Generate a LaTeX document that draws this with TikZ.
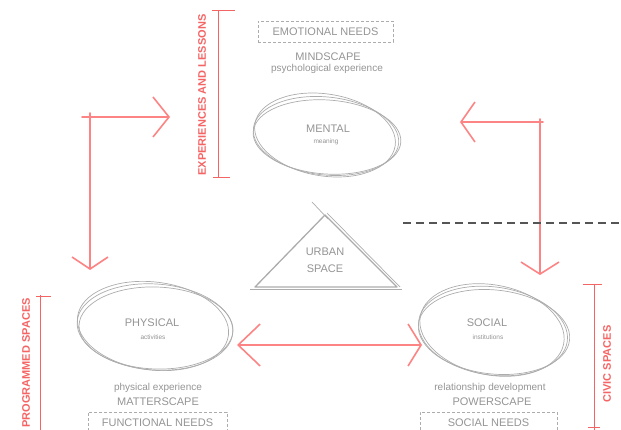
\documentclass[tikz,border=0pt]{standalone}
\usepackage{fontspec}
\setmainfont{Liberation Sans}
\usetikzlibrary{arrows.meta}
\definecolor{arrowred}{RGB}{252,132,132}
\definecolor{bracketred}{RGB}{245,100,100}
\definecolor{txtgray}{RGB}{148,148,148}
\definecolor{sketchgray}{RGB}{172,172,172}
\definecolor{dashgray}{RGB}{85,85,85}
\begin{document}
\begin{tikzpicture}[x=1pt,y=-1pt,
  every node/.style={inner sep=0pt, outer sep=0pt, text=txtgray},
  title/.style={font=\fontsize{11}{13}\selectfont},
  sub/.style={font=\fontsize{10}{12}\selectfont},
  tiny/.style={font=\fontsize{6.5}{8}\selectfont},
  needbox/.style={draw=sketchgray, densely dashed, line width=0.5pt, font=\fontsize{11}{13}\selectfont, minimum height=21pt},
  sketch/.style={draw=sketchgray, line width=0.7pt},
  tri/.style={draw=sketchgray, line width=1.3pt, line join=round},
  redarrow/.style={draw=arrowred, line width=1.6pt, line cap=round, line join=round},
  bracket/.style={draw=bracketred, line width=0.9pt},
  sidelabel/.style={text=bracketred, font=\bfseries\fontsize{11}{13}\selectfont, rotate=90},
  dashline/.style={draw=dashgray, line width=2.6pt, dash pattern=on 8pt off 5pt},
]
\useasboundingbox (0,0) rectangle (621,430);
\clip (0,0) rectangle (621,430);

% ---- top: mental ----
\node[needbox, minimum width=135pt] (emo) at (325.5,32) {EMOTIONAL NEEDS};
\node[title] (mindscape) at (328,57) {MINDSCAPE};
\node[sub] (psy) at (327,69) {psychological experience};
\node[title] (mental) at (328,129) {MENTAL};
\node[tiny] (meaning) at (326,142) {meaning};
\draw[sketch, rotate around={-6:(326,136)}] (326,136) ellipse [x radius=73, y radius=39];
\draw[sketch, rotate around={-9:(325,135)}] (325,135) ellipse [x radius=71, y radius=41];
\draw[sketch, rotate around={-4:(327,137)}] (327,137) ellipse [x radius=74, y radius=37];

% ---- left: physical ----
\node[title] (physical) at (152,323) {PHYSICAL};
\node[tiny] (activities) at (153,337) {activities};
\draw[sketch, rotate around={-4:(155,327)}] (155,327) ellipse [x radius=78, y radius=43];
\draw[sketch, rotate around={-7:(153,326)}] (153,326) ellipse [x radius=76, y radius=44];
\draw[sketch, rotate around={-2:(156,328)}] (156,328) ellipse [x radius=77, y radius=41];
\node[sub] (physexp) at (158,388) {physical experience};
\node[title] (matter) at (158,402) {MATTERSCAPE};
\node[needbox, minimum width=139pt] (func) at (157.5,422.5) {FUNCTIONAL NEEDS};

% ---- right: social ----
\node[title] (social) at (487,323) {SOCIAL};
\node[tiny] (inst) at (488,337) {institutions};
\draw[sketch, rotate around={-8:(493,331)}] (493,331) ellipse [x radius=75, y radius=44];
\draw[sketch, rotate around={-11:(492,330)}] (492,330) ellipse [x radius=73, y radius=45];
\draw[sketch, rotate around={-6:(494,332)}] (494,332) ellipse [x radius=76, y radius=42];
\node[sub] (reldev) at (490,388) {relationship development};
\node[title] (power) at (492,402) {POWERSCAPE};
\node[needbox, minimum width=137pt] (socneeds) at (488.5,422.5) {SOCIAL NEEDS};

% ---- centre: urban space ----
\coordinate (ta) at (325,215);
\coordinate (tl) at (255,287);
\coordinate (tr) at (397,287);
\draw[tri] (tl) -- (ta) -- (tr) -- cycle;
\draw[sketch] (312,202) -- (328,219);
\draw[sketch] (327,213) -- (400,287);
\draw[sketch] (250,289) -- (402,289);
\node[title, align=center] (urban) at (325,252) {URBAN};
\node[title, align=center] (space) at (325,269) {SPACE};

% ---- red arrows ----
\coordinate (lcornerh) at (82,117);
\coordinate (lcornerv) at (90,113);
\coordinate (ltipr) at (170,117);
\coordinate (ltipd) at (90,270);
\draw[redarrow, -{Straight Barb[length=16pt,width=40pt]}] (lcornerh) -- (ltipr);
\draw[redarrow, -{Straight Barb[length=12pt,width=36pt]}] (lcornerv) -- (ltipd);

\coordinate (rcornerh) at (543,122);
\coordinate (rcornerv) at (540,119);
\coordinate (rtipl) at (460,122);
\coordinate (rtipd) at (540,275);
\draw[redarrow, -{Straight Barb[length=14pt,width=40pt]}] (rcornerh) -- (rtipl);
\draw[redarrow, -{Straight Barb[length=12pt,width=38pt]}] (rcornerv) -- (rtipd);

\coordinate (hl) at (237,345);
\coordinate (hr) at (422,345);
\draw[redarrow, {Straight Barb[length=22pt,width=42pt]}-{Straight Barb[length=13pt,width=42pt]}] (hl) -- (hr);

% ---- dashed divider ----
\coordinate (dl) at (403,223);
\coordinate (dr) at (623,223);
\draw[dashline] (dl) -- (dr);

% ---- brackets ----
\coordinate (eb1) at (218,10);
\coordinate (eb2) at (218,177);
\draw[bracket] (eb1) -- (eb2);
\draw[bracket] (212,10) -- (235,10);
\draw[bracket] (213,177) -- (230,177);
\node[sidelabel] (explabel) at (202,95) {EXPERIENCES AND LESSONS};

\coordinate (pb1) at (40,295);
\coordinate (pb2) at (40,432);
\draw[bracket] (pb1) -- (pb2);
\draw[bracket] (36,296) -- (51,296);
\node[sidelabel] (proglabel) at (26,363) {PROGRAMMED SPACES};

\coordinate (cb1) at (594,284);
\coordinate (cb2) at (594,432);
\draw[bracket] (cb1) -- (cb2);
\draw[bracket] (583,284) -- (602,284);
\draw[bracket] (588,427) -- (600,427);
\node[sidelabel] (civlabel) at (607,364) {CIVIC SPACES};
\end{tikzpicture}
\end{document}
